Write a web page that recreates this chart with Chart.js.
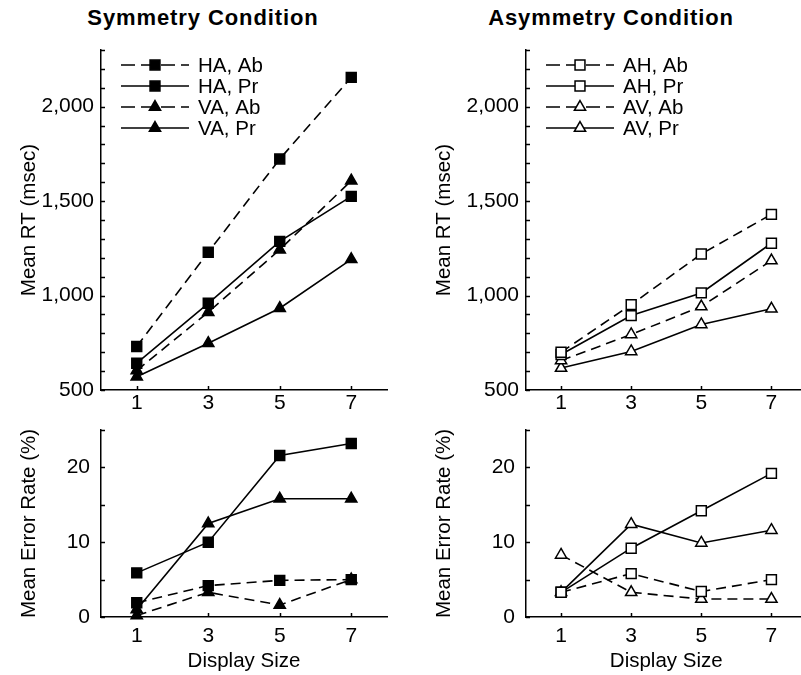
<!DOCTYPE html>
<html>
<head>
<meta charset="utf-8">
<script src="https://cdn.jsdelivr.net/npm/chart.js@4/dist/chart.umd.min.js"></script>
<style>
  body { margin: 0; width: 801px; height: 675px; overflow: hidden; background: #fff; position: relative; }
  canvas { position: absolute; }
  .title { position: absolute; top: 5px; font: bold 22px "Liberation Sans", Arial, sans-serif; letter-spacing: 0.9px; color: #000; text-align: center; width: 300px; }
</style>
</head>
<body>
<div class="title" style="left:53px">Symmetry Condition</div>
<div class="title" style="left:461px">Asymmetry Condition</div>
<canvas id="symRT" width="400" height="380" style="left:0;top:40px"></canvas>
<canvas id="asymRT" width="400" height="380" style="left:415px;top:40px"></canvas>
<canvas id="symErr" width="400" height="255" style="left:0;top:420px"></canvas>
<canvas id="asymErr" width="400" height="255" style="left:415px;top:420px"></canvas>
<script>
// display sizes on the x axis
var displaySizes = [1, 3, 5, 7];
var rtLabelTicks = [500, 1000, 1500, 2000];
var errLabelTicks = [0, 10, 20];

// symmetry condition
var symLabels = ['HA, Ab', 'HA, Pr', 'VA, Ab', 'VA, Pr'];
var symRT_HA_Ab = [730, 1229, 1723, 2155];
var symRT_HA_Pr = [642, 959, 1287, 1525];
var symRT_VA_Ab = [603, 912, 1243, 1608];
var symRT_VA_Pr = [570, 748, 933, 1192];
var symErr_HA_Ab = [1.9, 4.2, 4.9, 5.0];
var symErr_HA_Pr = [5.9, 10.0, 21.6, 23.2];
var symErr_VA_Ab = [0.2, 3.3, 1.6, 5.0];
var symErr_VA_Pr = [1.0, 12.5, 15.8, 15.8];

// asymmetry condition
var asymLabels = ['AH, Ab', 'AH, Pr', 'AV, Ab', 'AV, Pr'];
var asymRT_AH_Ab = [700, 952, 1220, 1430];
var asymRT_AH_Pr = [688, 894, 1014, 1277];
var asymRT_AV_Ab = [656, 794, 942, 1185];
var asymRT_AV_Pr = [616, 704, 847, 930];
var asymErr_AH_Ab = [3.3, 5.8, 3.4, 5.0];
var asymErr_AH_Pr = [3.3, 9.2, 14.2, 19.2];
var asymErr_AV_Ab = [8.3, 3.3, 2.4, 2.4];
var asymErr_AV_Pr = [3.3, 12.4, 9.9, 11.6];

var FONT = '"Liberation Sans", Arial, Helvetica, sans-serif';
Chart.defaults.color = '#000';
Chart.defaults.font.family = FONT;
Chart.defaults.font.size = 21;

// style of each series: dashed = absent, square / triangle, filled or open
function seriesStyle(i, filled) {
   return {
      dashed: (i % 2 == 0),
      shape: (i < 2) ? 'rect' : 'triangle',
      fill: filled ? '#000' : '#fff'
   };
}

function makeDataset(values, st) {
   return {
      data: displaySizes.map(function(x, i) { return { x: x, y: values[i] }; }),
      borderColor: '#000',
      borderWidth: 1.6,
      borderDash: st.dashed ? [10, 6] : [],
      pointStyle: st.shape,
      pointRadius: st.shape == 'rect' ? 7 : 6.5,
      pointBackgroundColor: st.fill,
      pointBorderColor: '#000',
      pointBorderWidth: 1.5,
      tension: 0,
      clip: false
   };
}

function drawMarker(ctx, shape, x, y, fill) {
   ctx.save();
   ctx.setLineDash([]);
   ctx.fillStyle = fill;
   ctx.strokeStyle = '#000';
   ctx.lineWidth = 1.5;
   ctx.beginPath();
   if (shape == 'rect') {
      var s = 7 * Math.SQRT1_2;
      ctx.rect(x - s, y - s, 2 * s, 2 * s);
   } else {
      var r = 6.5;
      ctx.moveTo(x, y - r);
      ctx.lineTo(x + r * Math.sin(2 * Math.PI / 3), y + r * 0.5);
      ctx.lineTo(x - r * Math.sin(2 * Math.PI / 3), y + r * 0.5);
      ctx.closePath();
   }
   ctx.fill();
   ctx.stroke();
   ctx.restore();
}

// inward tick marks on both axes, and the legend inside the plot
function panelPlugin(legendItems) {
   return {
      id: 'panelDecor',
      beforeDatasetsDraw: function(chart) {
         var ctx = chart.ctx;
         var area = chart.chartArea;
         ctx.save();
         ctx.strokeStyle = '#000';
         ctx.lineWidth = 1.5;
         chart.scales.y.ticks.forEach(function(t) {
            var py = Math.round(chart.scales.y.getPixelForValue(t.value)) + 0.5;
            ctx.beginPath();
            ctx.moveTo(area.left, py);
            ctx.lineTo(area.left + 4, py);
            ctx.stroke();
         });
         chart.scales.x.ticks.forEach(function(t) {
            var px = Math.round(chart.scales.x.getPixelForValue(t.value)) + 0.5;
            ctx.beginPath();
            ctx.moveTo(px, area.bottom);
            ctx.lineTo(px, area.bottom - 4);
            ctx.stroke();
         });
         ctx.restore();
      },
      afterDraw: function(chart) {
         if (!legendItems) return;
         var ctx = chart.ctx;
         var area = chart.chartArea;
         legendItems.forEach(function(item, i) {
            var y = area.top + 15 + i * 21;
            ctx.save();
            ctx.strokeStyle = '#000';
            ctx.lineWidth = 1.6;
            ctx.setLineDash(item.st.dashed ? [14, 6] : []);
            ctx.beginPath();
            ctx.moveTo(area.left + 20, y);
            ctx.lineTo(area.left + 88, y);
            ctx.stroke();
            ctx.restore();
            drawMarker(ctx, item.st.shape, area.left + 54, y, item.st.fill);
            ctx.save();
            ctx.fillStyle = '#000';
            ctx.font = '20.5px ' + FONT;
            ctx.textBaseline = 'middle';
            ctx.fillText(item.label, area.left + 97, y + 1);
            ctx.restore();
         });
      }
   };
}

function printPanel(id, seriesList, labels, filled, yOpts, isTop) {
   var datasets = seriesList.map(function(vals, i) {
      return makeDataset(vals, seriesStyle(i, filled));
   });
   var legendItems = isTop ? labels.map(function(l, i) { return { label: l, st: seriesStyle(i, filled) }; }) : null;
   var ctx = document.getElementById(id).getContext('2d');
   var isAsym = (id.indexOf('asym') == 0);

   new Chart(ctx, {
      type: 'line',
      data: { datasets: datasets },
      options: {
         responsive: false,
         animation: false,
         devicePixelRatio: 1,
         layout: { padding: { top: 10, right: isAsym ? 6.5 : 13, left: 0, bottom: 0 } },
         plugins: { legend: { display: false }, tooltip: { enabled: false } },
         scales: {
            x: {
               type: 'linear',
               min: 0,
               max: 8,
               grid: { display: false, drawTicks: false },
               border: { display: true, color: '#000', width: 1.5 },
               afterBuildTicks: function(scale) {
                  scale.ticks = displaySizes.map(function(v) { return { value: v }; });
               },
               afterFit: function(scale) {
                  scale.height = isTop ? 30 : 58;
                  scale.paddingLeft = 0;
                  scale.paddingRight = 0;
               },
               ticks: { padding: isTop ? 1 : 7, maxRotation: 0, autoSkip: false },
               title: { display: !isTop, text: 'Display Size', font: { size: 20.5 }, padding: { top: 0, bottom: 1 } }
            },
            y: {
               min: yOpts.min,
               max: yOpts.max,
               grid: { display: false, drawTicks: false },
               border: { display: true, color: '#000', width: 1.5 },
               afterFit: function(scale) {
                  scale.width = isAsym ? 111 : 101;
                  scale.paddingTop = 0;
                  scale.paddingBottom = 0;
               },
               ticks: {
                  stepSize: yOpts.step,
                  autoSkip: false,
                  padding: yOpts.pad,
                  callback: function(v) {
                     return yOpts.labels.indexOf(v) >= 0 ? v.toLocaleString('en-US') : '';
                  }
               },
               title: { display: true, text: yOpts.title, font: { size: 20.5 }, padding: { top: 17, bottom: 0 } }
            }
         }
      },
      plugins: [panelPlugin(legendItems)]
   });
}

var rtAxis = { min: 500, max: 2300, step: 100, labels: rtLabelTicks, title: 'Mean RT (msec)', pad: 7 };
var errAxis = { min: 0, max: 25, step: 5, labels: errLabelTicks, title: 'Mean Error Rate (%)', pad: 11 };

printPanel('symRT', [symRT_HA_Ab, symRT_HA_Pr, symRT_VA_Ab, symRT_VA_Pr], symLabels, true, rtAxis, true);
printPanel('asymRT', [asymRT_AH_Ab, asymRT_AH_Pr, asymRT_AV_Ab, asymRT_AV_Pr], asymLabels, false, rtAxis, true);
printPanel('symErr', [symErr_HA_Ab, symErr_HA_Pr, symErr_VA_Ab, symErr_VA_Pr], symLabels, true, errAxis, false);
printPanel('asymErr', [asymErr_AH_Ab, asymErr_AH_Pr, asymErr_AV_Ab, asymErr_AV_Pr], asymLabels, false, errAxis, false);
</script>
</body>
</html>
